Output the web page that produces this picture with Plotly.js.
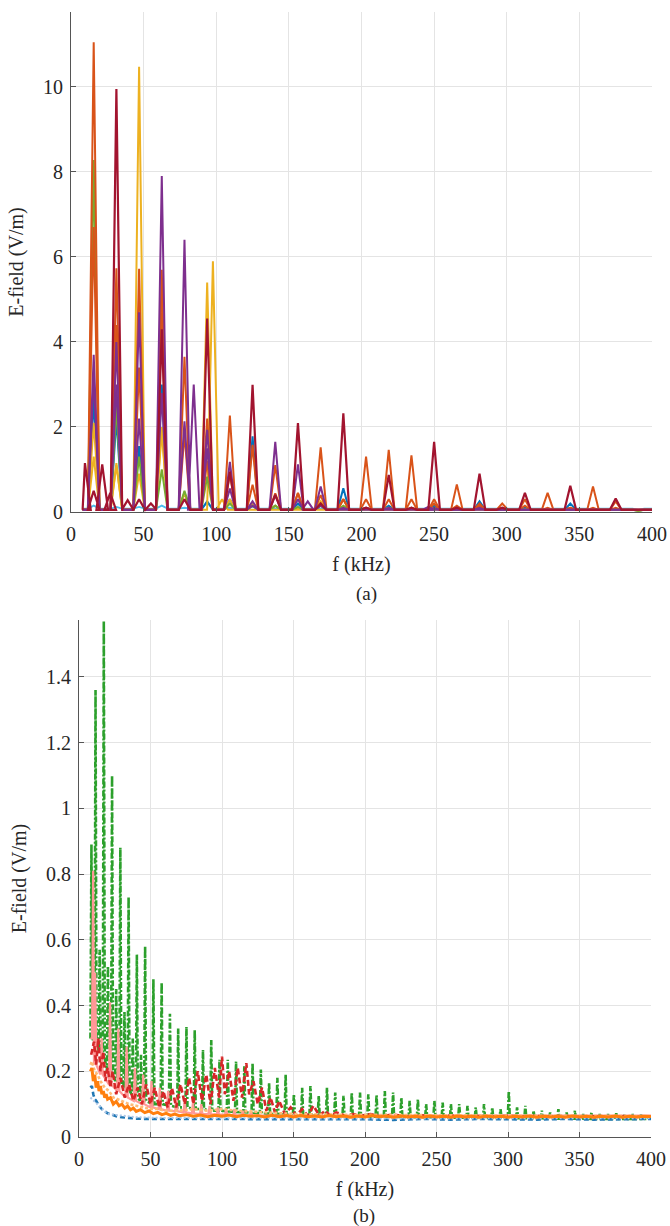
<!DOCTYPE html>
<html><head><meta charset="utf-8">
<script src="https://cdn.plot.ly/plotly-3.0.1.min.js"></script>
<style>html,body{margin:0;padding:0;background:#fff}</style>
</head><body><div id="chart" style="width:670px;height:1226px"></div>
<script>
// ===================== (a) data =====================
const harmonicsA = [15.63, 31.25, 46.88, 62.5, 78.13, 93.75, 109.38, 125, 140.63, 156.25, 171.88, 187.5, 203.13, 218.75, 234.38, 250, 265.63, 281.25, 296.88, 312.5, 328.13, 343.75, 359.38, 375, 390.63];
const baseA = 0.05;
const lightBlueA = [0.15, 0.12, 0.12, 0.15, 0.1, 0.22, 0.1, 0.12, 0.08, 0.08, 0.08, 0.08, 0.06, 0.06, 0.06, 0.06, 0.05, 0.05, 0.05, 0.05, 0.05, 0.05, 0.05, 0.05, 0.05];
const blueA = [2.65, 2.2, 1.55, 3.0, 0.45, 0.25, 0.3, 1.78, 0.15, 0.2, 0.2, 0.56, 0.1, 0.15, 0.1, 0.15, 0.05, 0.25, 0.05, 0.1, 0.05, 0.2, 0.05, 0.08, 0.03];
const yellowA = [2.1, 1.15, 10.47, 2.0, 0.45, 5.4, 0.3, 0.2, 0.15, 0.1, 0.25, 0.3, 0.1, 0.1, 0.1, 0.1, 0.05, 0.1, 0.05, 0.05, 0.05, 0.05, 0.05, 0.05, 0.03];
const yellow2F = [15.63, 31.25, 46.88, 62.5, 78.13, 97.7, 104];
const yellow2A = [1.3, 1.1, 0.9, 1.9, 0.45, 5.9, 0.3];
const greenA = [8.28, 2.5, 1.3, 1.0, 0.5, 0.83, 0.2, 0.15, 0.15, 0.12, 0.15, 0.15, 0.08, 0.1, 0.08, 0.08, 0.05, 0.08, 0.05, 0.05, 0.05, 0.05, 0.05, 0.05, 0.03];
const orange2A = [6.7, 4.4, 3.4, 4.7, 1.85, 1.2, 0.9, 0.64, 0.44, 0.44, 0.4, 0.3, 0.3, 0.3, 0.3, 0.2, 0.15, 0.15, 0.1, 0.15, 0.1, 0.1, 0.1, 0.1, 0.05];
const orangeA = [11.05, 5.73, 5.72, 5.7, 3.65, 2.2, 2.27, 1.58, 1.1, 0.45, 1.52, 0.3, 1.3, 1.46, 1.33, 0.3, 0.65, 0.2, 0.2, 0.3, 0.45, 0.1, 0.6, 0.25, 0.05];
const purple2A = [3.2, 3.0, 2.2, 2.8, 2.13, 1.5, 0.55, 0.15, 0.4, 0.3, 0.15, 0.05, 0.05, 0.05, 0.05, 0.05, 0.05, 0.05, 0.05, 0.05, 0.05, 0.05, 0.05, 0.05, 0.05];
const purpleA = [3.7, 4.0, 4.7, 7.9, 6.4, 1.93, 1.18, 0.25, 1.65, 1.12, 0.6, 0.1, 0.1, 0.1, 0.08, 0.1, 0.05, 0.1, 0.05, 0.05, 0.05, 0.05, 0.05, 0.05, 0.05];
const purpleExtraF = [84.5, 163, 246];
const purpleExtraA = [3.0, 0.25, 0.12];
const darkRedA = [0.5, 9.95, 0.3, 4.3, 0.3, 4.55, 0.95, 2.99, 0.4, 2.09, 0.2, 2.32, 0.1, 0.87, 0.1, 1.65, 0.1, 0.9, 0.1, 0.45, 0.05, 0.62, 0.05, 0.32, 0.05];
const darkRedExtraF = [9.6, 21.5, 27, 39, 55];
const darkRedExtraA = [1.15, 1.12, 0.45, 0.28, 0.2];

// ===================== (b) data =====================
const greenBF = [8.7, 11.56, 14.45, 17.34, 20.23, 23.12, 26.01, 28.9, 31.79, 34.68, 37.57, 40.46, 43.35, 46.24, 52.02, 57.8, 63.58, 69.36, 75.14, 80.92, 86.7, 92.48, 98.26, 104.04, 109.82, 115.6, 121.38, 127.16, 132.94, 138.72, 144.5, 150.28, 156.06, 161.84, 167.62, 173.4, 179.18, 184.96, 190.74, 196.52, 202.3, 208.08, 213.86, 219.64, 225.42, 231.2, 236.98, 242.76, 248.54, 254.32, 260.1, 265.88, 271.66, 277.44, 283.22, 289, 294.78, 300.56, 306.34, 312.12, 317.9, 323.68, 329.46, 335.24, 341.02, 346.8, 352.58, 358.36, 364.14, 369.92, 375.7, 381.48, 387.26, 393.04, 398.82];
const greenBPeak = [0.89, 1.36, 0.57, 1.57, 0.52, 1.1, 0.45, 0.88, 0.38, 0.73, 0.3, 0.555, 0.25, 0.58, 0.48, 0.47, 0.375, 0.33, 0.335, 0.325, 0.265, 0.295, 0.235, 0.235, 0.23, 0.215, 0.225, 0.205, 0.165, 0.18, 0.19, 0.13, 0.15, 0.155, 0.125, 0.15, 0.135, 0.125, 0.135, 0.135, 0.13, 0.128, 0.14, 0.135, 0.12, 0.11, 0.115, 0.1, 0.11, 0.105, 0.1, 0.1, 0.095, 0.09, 0.1, 0.09, 0.085, 0.14, 0.09, 0.095, 0.08, 0.08, 0.075, 0.085, 0.075, 0.08, 0.07, 0.075, 0.07, 0.07, 0.072, 0.068, 0.07, 0.068, 0.065];
const greenBTrough = [0.3, 0.28, 0.26, 0.24, 0.2, 0.19, 0.17, 0.16, 0.15, 0.14, 0.13, 0.12, 0.11, 0.11, 0.1, 0.1, 0.095, 0.09, 0.09, 0.085, 0.085, 0.08, 0.08, 0.078, 0.076, 0.075, 0.074, 0.072, 0.07, 0.07, 0.068, 0.067, 0.066, 0.066, 0.065, 0.065, 0.064, 0.064, 0.063, 0.063, 0.062, 0.062, 0.062, 0.061, 0.061, 0.06, 0.06, 0.06, 0.06, 0.06, 0.059, 0.059, 0.059, 0.058, 0.058, 0.058, 0.058, 0.058, 0.057, 0.057, 0.057, 0.057, 0.056, 0.056, 0.056, 0.056, 0.056, 0.055, 0.055, 0.055, 0.055, 0.055, 0.055, 0.055, 0.055];

const pinkBF = [9.9, 11.3, 15.8, 21.7, 27.5, 33.3, 39.1, 44.9, 50.7, 56.5, 62.3, 68.1, 73.9, 79.7, 85.5, 91.3, 97.1, 102.9, 108.7, 114.5, 120.3];
const pinkBPeak = [0.81, 0.5, 0.3, 0.41, 0.33, 0.275, 0.21, 0.19, 0.17, 0.15, 0.14, 0.12, 0.11, 0.105, 0.1, 0.095, 0.09, 0.085, 0.085, 0.08, 0.08];
const pinkBTrough = [0.3, 0.22, 0.19, 0.16, 0.14, 0.12, 0.11, 0.1, 0.09, 0.085, 0.08, 0.078, 0.075, 0.072, 0.07, 0.07, 0.068, 0.068, 0.066, 0.066, 0.065];

const redBX = [8.5, 10.5, 12, 13.5, 15, 17, 18.5, 20, 22, 23.5, 26, 29, 32, 35, 38, 41, 44, 47, 50, 53, 56, 59, 62, 65, 68, 71, 74, 77, 80, 83, 86, 89, 92, 95, 98, 100, 102, 105, 108, 111, 114, 117, 119, 122, 125, 128, 131, 134, 137, 140, 144, 148, 152, 156, 160, 164, 168, 172, 176, 180, 186, 192, 198, 204, 210, 220, 230, 240, 250, 260, 270, 280, 290, 300, 310, 320, 330, 340, 350, 360, 370, 380, 390, 400];
const redBY = [0.25, 0.29, 0.22, 0.3, 0.2, 0.26, 0.17, 0.21, 0.15, 0.2, 0.13, 0.18, 0.12, 0.16, 0.11, 0.15, 0.1, 0.16, 0.1, 0.15, 0.09, 0.14, 0.09, 0.15, 0.09, 0.16, 0.1, 0.18, 0.1, 0.2, 0.11, 0.19, 0.1, 0.21, 0.12, 0.245, 0.13, 0.2, 0.11, 0.21, 0.12, 0.225, 0.13, 0.17, 0.1, 0.15, 0.08, 0.12, 0.075, 0.11, 0.07, 0.09, 0.065, 0.085, 0.065, 0.095, 0.065, 0.08, 0.065, 0.075, 0.065, 0.07, 0.065, 0.07, 0.063, 0.068, 0.062, 0.066, 0.062, 0.065, 0.062, 0.064, 0.062, 0.065, 0.062, 0.064, 0.062, 0.064, 0.061, 0.063, 0.062, 0.063, 0.061, 0.062];

const orangeBX = [8, 9, 10, 11, 12, 13, 14, 15, 16, 17, 18, 19, 20, 22, 24, 26, 28, 30, 32, 34, 36, 38, 40, 43, 46, 49, 52, 55, 58, 61, 64, 67, 70, 75, 80, 85, 90, 95, 100, 105, 110, 115, 120, 125, 130, 135, 140, 145, 150, 155, 160, 165, 170, 175, 180, 185, 190, 195, 200, 205, 210, 215, 220, 225, 230, 235, 240, 245, 250, 255, 260, 265, 270, 275, 280, 285, 290, 295, 300, 305, 310, 315, 320, 325, 330, 335, 340, 345, 350, 355, 360, 365, 370, 375, 380, 385, 390, 395, 400];
const orangeBY = [0.2, 0.21, 0.17, 0.19, 0.15, 0.17, 0.14, 0.155, 0.13, 0.14, 0.12, 0.13, 0.115,
  0.12, 0.1, 0.108, 0.095, 0.1, 0.088, 0.094, 0.083, 0.088, 0.078,
  0.083, 0.074, 0.079, 0.071, 0.075, 0.068, 0.072, 0.066, 0.07, 0.065,
  0.068, 0.063, 0.067, 0.062, 0.066, 0.063, 0.067, 0.062, 0.066, 0.063,
  0.065, 0.061, 0.066, 0.062, 0.065, 0.061, 0.065, 0.062, 0.064, 0.061,
  0.065, 0.062, 0.064, 0.06, 0.064, 0.061, 0.065, 0.062, 0.064, 0.06,
  0.064, 0.061, 0.063, 0.06, 0.064, 0.061, 0.063, 0.06, 0.064, 0.061,
  0.063, 0.06, 0.064, 0.061, 0.063, 0.06, 0.063, 0.061, 0.064, 0.06,
  0.063, 0.061, 0.063, 0.06, 0.064, 0.061, 0.063, 0.06, 0.063, 0.061,
  0.064, 0.06, 0.063, 0.061, 0.063, 0.062];

const peachBX = [8, 9, 11, 13, 15, 18, 21, 24, 27, 30, 35, 40, 45, 50, 55, 60, 70, 80, 90, 100, 110, 120, 130, 140, 150, 175, 200, 250, 300, 350, 400];
const peachBY = [0.22, 0.23, 0.2, 0.19, 0.17, 0.15, 0.14, 0.12, 0.115, 0.11, 0.1, 0.095, 0.09, 0.085, 0.085, 0.08, 0.08, 0.085, 0.08, 0.085, 0.08, 0.078, 0.075, 0.072, 0.07, 0.068, 0.067, 0.066, 0.065, 0.064, 0.063];

const blueBX = [8, 9, 10, 11, 12, 13, 14, 16, 18, 20, 23, 26, 30, 35, 40, 45, 50, 60, 70, 80, 90, 100, 120, 140, 160, 180, 200, 220, 240, 260, 280, 300, 320, 340, 360, 380, 400];
const blueBY = [0.15, 0.155, 0.13, 0.115, 0.11, 0.1, 0.095, 0.085, 0.078, 0.072, 0.068, 0.063, 0.06, 0.057, 0.056, 0.055, 0.055, 0.054, 0.055, 0.053, 0.054, 0.053, 0.054, 0.053, 0.055, 0.053, 0.054, 0.052, 0.055, 0.053, 0.055, 0.054, 0.053, 0.055, 0.053, 0.054, 0.055];

const lightBlueBX = [8, 20, 40, 60, 100, 150, 200, 250, 300, 350, 400];
const lightBlueBY = [0.12, 0.07, 0.06, 0.058, 0.057, 0.056, 0.057, 0.056, 0.057, 0.056, 0.057];

const xTicks = [0, 50, 100, 150, 200, 250, 300, 350, 400];
const yTicksA = [0, 2, 4, 6, 8, 10];
const yTicksB = [0, 0.2, 0.4, 0.6, 0.8, 1, 1.2, 1.4];
const yTickTextB = ['0', '0.2', '0.4', '0.6', '0.8', '1', '1.2', '1.4'];

// ===================== builders =====================
const START = 8, END = 400;
function spikeLine(freqs, peaks, base, hw, extraF, extraP) {
  const n = Math.min(freqs.length, peaks.length);
  const pts = [];
  for (let i = 0; i < n; i++) pts.push([freqs[i], peaks[i]]);
  if (extraF) for (let i = 0; i < Math.min(extraF.length, extraP.length); i++) pts.push([extraF[i], extraP[i]]);
  pts.sort((a, b) => a[0] - b[0]);
  const x = [START], y = [base];
  pts.forEach(([f, p]) => { x.push(Math.max(START, f - hw), f, f + hw); y.push(base, p, base); });
  x.push(END); y.push(base);
  return {x, y};
}
function combLine(freqs, peaks, troughs, hw) {
  const n = Math.min(freqs.length, peaks.length, troughs.length);
  const x = [START], y = [troughs[0]];
  for (let i = 0; i < n; i++) {
    x.push(Math.max(START, freqs[i] - hw), freqs[i], freqs[i] + hw);
    y.push(troughs[i], peaks[i], troughs[i]);
  }
  x.push(END); y.push(troughs[n - 1]);
  return {x, y};
}
function pairs(xs, ys) { const n = Math.min(xs.length, ys.length); return {x: xs.slice(0, n), y: ys.slice(0, n)}; }

const HW = 4.0;
const traces = [];
function addA(d, color, width) {
  traces.push({type: 'scatter', mode: 'lines', x: d.x, y: d.y, xaxis: 'x', yaxis: 'y',
    line: {color: color, width: width}, hoverinfo: 'skip'});
}
addA(spikeLine(harmonicsA, lightBlueA, 0.08, HW), '#4DBEEE', 1.8);
addA(spikeLine(harmonicsA, blueA, baseA, HW), '#0072BD', 2);
addA(spikeLine(harmonicsA, yellowA, baseA, HW), '#EDB120', 2);
addA(spikeLine(yellow2F, yellow2A, baseA, HW), '#EDB120', 2);
addA(spikeLine(harmonicsA, greenA, baseA, HW), '#77AC30', 2);
addA(spikeLine(harmonicsA, orange2A, baseA, HW), '#D95319', 2);
addA(spikeLine(harmonicsA, orangeA, baseA, HW), '#D95319', 2);
addA(spikeLine(harmonicsA, purple2A, baseA, HW), '#7E2F8E', 2);
addA(spikeLine(harmonicsA, purpleA, baseA, HW, purpleExtraF, purpleExtraA), '#7E2F8E', 2);
addA(spikeLine(harmonicsA, darkRedA, baseA, HW, darkRedExtraF, darkRedExtraA), '#A2142F', 2.2);

function addB(d, color, width, dash) {
  traces.push({type: 'scatter', mode: 'lines', x: d.x, y: d.y, xaxis: 'x2', yaxis: 'y2',
    line: {color: color, width: width, dash: dash || 'solid'}, hoverinfo: 'skip'});
}
addB(combLine(greenBF, greenBPeak, greenBTrough, 0.7), '#2ca02c', 2.6, '6px,2px,2px,2px');
addB(combLine(pinkBF, pinkBPeak, pinkBTrough, 0.8), '#ff9896', 2.2);
addB(pairs(redBX, redBY), '#d62728', 2.6, '6px,3px');
addB(pairs(blueBX, blueBY), '#1f77b4', 2.6, '5px,3px');
addB(pairs(lightBlueBX, lightBlueBY), '#aec7e8', 2, '2px,2px');
addB(pairs(peachBX, peachBY), '#ffbb78', 2.6, '3px,2px');
addB(pairs(orangeBX, orangeBY), '#ff7f0e', 3);

const W = 670, H = 1226;
const fontFam = "'Liberation Serif', 'Times New Roman', Times, serif";
const txt = {family: fontFam, size: 20, color: '#262626'};
const axisCommon = {
  showgrid: true, gridcolor: '#e4e4e4', gridwidth: 1, zeroline: false,
  showline: true, linecolor: '#555', linewidth: 1,
  ticks: 'inside', ticklen: 5, tickcolor: '#555', tickwidth: 1,
  tickfont: txt, fixedrange: true
};
const layout = {
  width: W, height: H, margin: {l: 0, r: 0, t: 0, b: 0},
  paper_bgcolor: '#fff', plot_bgcolor: '#fff', showlegend: false,
  font: txt,
  xaxis: Object.assign({}, axisCommon, {domain: [71 / W, 652 / W], range: [0, 400], anchor: 'y',
    tickvals: xTicks, ticklabelstandoff: 4,
    title: {text: 'f (kHz)', font: txt, standoff: 12}}),
  yaxis: Object.assign({}, axisCommon, {domain: [1 - 512 / H, 1 - 12 / H], range: [0, 11.76], anchor: 'x',
    tickvals: yTicksA, ticklabelstandoff: 3,
    title: {text: 'E-field (V/m)', font: txt, standoff: 14}}),
  xaxis2: Object.assign({}, axisCommon, {domain: [79 / W, 651 / W], range: [0, 400], anchor: 'y2',
    tickvals: xTicks, ticklabelstandoff: 4,
    title: {text: 'f (kHz)', font: txt, standoff: 12}}),
  yaxis2: Object.assign({}, axisCommon, {domain: [1 - 1137 / H, 1 - 620 / H], range: [0, 1.573], anchor: 'x2',
    tickvals: yTicksB, ticktext: yTickTextB, ticklabelstandoff: 3,
    title: {text: 'E-field (V/m)', font: txt, standoff: 14}}),
  annotations: [
    {text: '(a)', xref: 'paper', yref: 'paper', x: 366 / W, y: 1 - 594 / H, showarrow: false,
      xanchor: 'center', yanchor: 'middle', font: {family: fontFam, size: 19, color: '#262626'}},
    {text: '(b)', xref: 'paper', yref: 'paper', x: 364 / W, y: 1 - 1216 / H, showarrow: false,
      xanchor: 'center', yanchor: 'middle', font: {family: fontFam, size: 19, color: '#262626'}}
  ]
};
Plotly.newPlot('chart', traces, layout, {displayModeBar: false, staticPlot: true});
</script></body></html>
